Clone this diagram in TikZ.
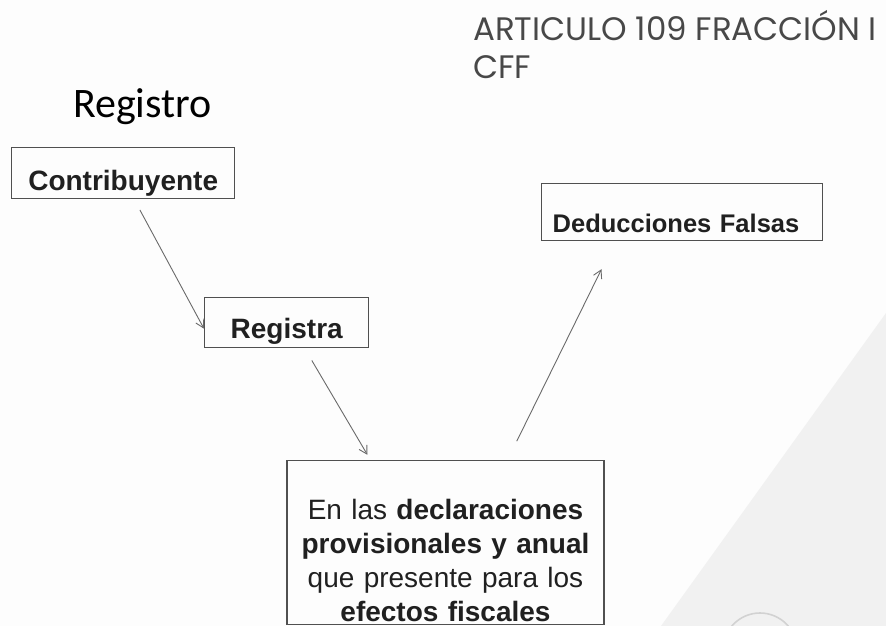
\documentclass[tikz,border=0pt]{standalone}
\usepackage{fontspec}
\setmainfont{Liberation Sans}
\newfontfamily\titlefont{Poppins}
\newfontfamily\calibrifont{Carlito}
\usetikzlibrary{arrows.meta}
\definecolor{bgwhite}{HTML}{FDFDFD}
\definecolor{bggray}{HTML}{F1F1F1}
\definecolor{arcgray}{HTML}{D2D2D2}
\definecolor{titlegray}{HTML}{484848}
\definecolor{boxgray}{HTML}{505050}
\definecolor{arrowgray}{HTML}{6A6A6A}
\definecolor{textdark}{HTML}{202020}

\begin{document}
\begin{tikzpicture}[x=1pt,y=-1pt,>={Straight Barb[length=8pt,width=9pt]},
  caja/.style={draw=boxgray,line width=1.4pt,inner sep=0pt,text=textdark},
  flecha/.style={->,draw=arrowgray,line width=0.9pt}]

% Fondo
\useasboundingbox (0,0) rectangle (886,626);
\fill[bgwhite] (0,0) rectangle (886,626);
\fill[bggray] (886,313) -- (886,626) -- (661,626) -- cycle;
\begin{scope}
\clip (0,0) rectangle (886,626);
\draw[arcgray,line width=1.6pt] (760,650) circle[radius=37pt];
\end{scope}

% Titulos
\node[anchor=base west,inner sep=0pt,align=left,text=titlegray,
  font=\titlefont\fontsize{32.5}{38}\selectfont] (titulo) at (473,78)
  {ARTICULO 109 FRACCIÓN I\\CFF};
\node[anchor=base west,inner sep=0pt,text=black,
  font=\calibrifont\fontsize{42}{50}\selectfont] (registro) at (73,117) {Registro};

% Cajas
\node[caja,anchor=north west,minimum width=223pt,text height=43pt,text depth=8pt,
  font=\bfseries\fontsize{28}{30}\selectfont] (contrib) at (11,147) {Contribuyente};
\node[caja,anchor=north west,minimum width=164pt,text height=41pt,text depth=9pt,
  font=\bfseries\fontsize{28}{30}\selectfont] (registra) at (204,297) {Registra};
\node[caja,anchor=north west,minimum width=281pt,text width=259pt,align=left,
  text height=49pt,text depth=8pt,
  font=\bfseries\fontsize{25.5}{30}\selectfont] (deduc) at (541,183) {Deducciones Falsas};
\node[caja,anchor=north,minimum width=317pt,text width=310pt,align=center,
  text height=59pt,text depth=105pt,font=\fontsize{28}{34}\selectfont] (decl) at (445.5,460)
  {En las \textbf{declaraciones}\\\textbf{provisionales y anual}\\que presente para los\\\textbf{efectos fiscales}};

% Flechas
\draw[flecha,shorten <=12pt] ([xshift=11pt]contrib.south) -- ([yshift=-6pt]registra.west);
\draw[flecha,shorten <=14pt,shorten >=6pt] ([xshift=18pt]registra.south) -- ([xshift=-75pt]decl.north);
\draw[flecha,shorten <=21pt,shorten >=31pt] ([xshift=62pt]decl.north) -- ([xshift=-67pt]deduc.south);

\end{tikzpicture}
\end{document}
